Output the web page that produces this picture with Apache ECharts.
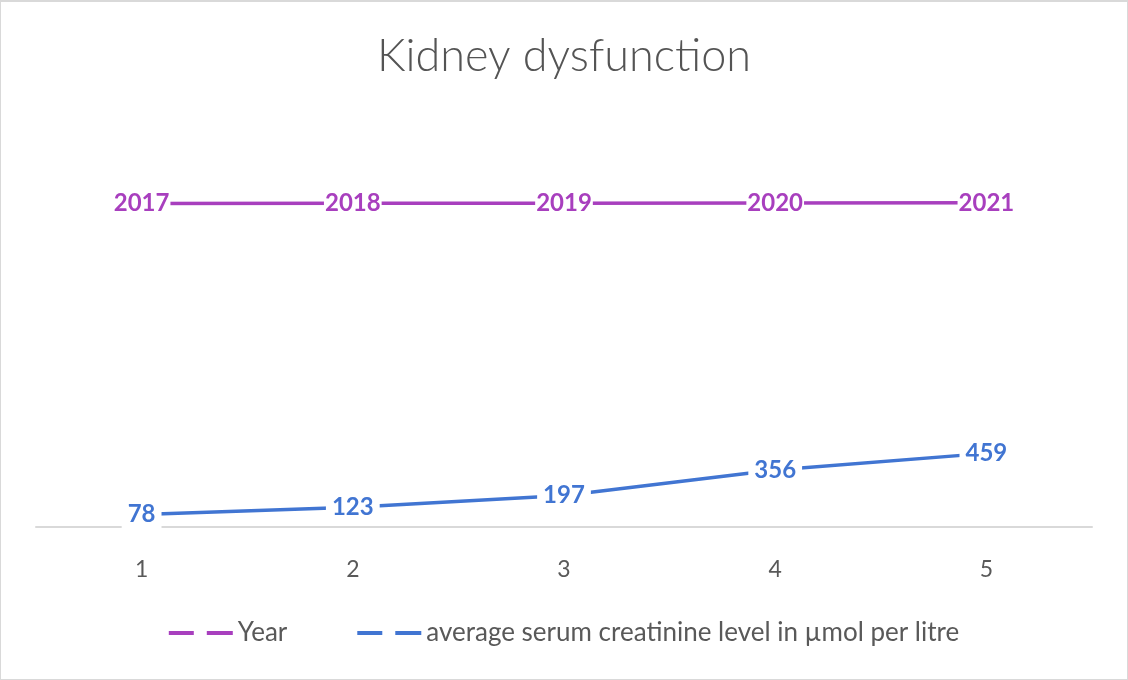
<!DOCTYPE html>
<html>
<head>
<meta charset="utf-8">
<script src="https://cdn.jsdelivr.net/npm/echarts@6/dist/echarts.min.js"></script>
<style>
html,body{margin:0;padding:0;background:#fff;}
#chart{width:1126px;height:677px;border:1px solid #d9d9d9;border-top:2px solid #d9d9d9;}
</style>
</head>
<body>
<div id="chart"></div>
<script>
const categories = ['1', '2', '3', '4', '5'];
const yearValues = [2017, 2018, 2019, 2020, 2021];
const creatinineValues = [78, 123, 197, 356, 459];
const seriesNames = ['Year', 'average serum creatinine level in µmol per litre'];

const chart = echarts.init(document.getElementById('chart'));
const purple = '#A83FBE';
const blue = '#4175D2';
const fontFamily = 'Lato, "Open Sans", sans-serif';
const dashIcon = 'path://M0,0 h25 v4 h-25 Z M38,0 h26 v4 h-26 Z';

function labelCfg(color, pad) {
  return {
    show: true,
    position: 'inside',
    color: color,
    fontFamily: fontFamily,
    fontWeight: 'bold',
    fontSize: 24,
    backgroundColor: '#fff',
    padding: pad
  };
}

chart.setOption({
  animation: false,
  title: {
    text: 'Kidney dysfunction',
    left: 'center',
    top: 27,
    textStyle: { fontFamily: fontFamily, fontWeight: 300, fontSize: 45, color: '#545454' }
  },
  legend: {
    data: seriesNames.map(n => ({ name: n, icon: dashIcon })),
    left: 'center',
    top: 613,
    itemWidth: 64,
    itemHeight: 4,
    itemGap: 70,
    textStyle: { fontFamily: fontFamily, fontSize: 26, color: '#595959' }
  },
  grid: { left: 35, right: 35, top: 124, bottom: 152, containLabel: false },
  xAxis: {
    type: 'category',
    data: categories,
    boundaryGap: true,
    axisLine: { show: true, lineStyle: { color: '#d9d9d9', width: 2 } },
    axisTick: { show: false },
    axisLabel: { fontFamily: fontFamily, fontSize: 23, color: '#595959', margin: 31 },
    splitLine: { show: false }
  },
  yAxis: {
    type: 'value',
    min: 0,
    max: 2500,
    interval: 500,
    show: false,
    splitLine: { show: false }
  },
  series: [
    {
      name: seriesNames[0],
      type: 'line',
      data: yearValues,
      symbol: 'circle',
      symbolSize: 0,
      showSymbol: true,
      lineStyle: { color: purple, width: 3.5 },
      itemStyle: { color: purple },
      label: labelCfg(purple, [1, 1]),
      z: 3
    },
    {
      name: seriesNames[1],
      type: 'line',
      data: creatinineValues,
      symbol: 'circle',
      symbolSize: 0,
      showSymbol: true,
      lineStyle: { color: blue, width: 3.5 },
      itemStyle: { color: blue },
      label: labelCfg(blue, [3, 6]),
      z: 3
    }
  ]
});
</script>
</body>
</html>
